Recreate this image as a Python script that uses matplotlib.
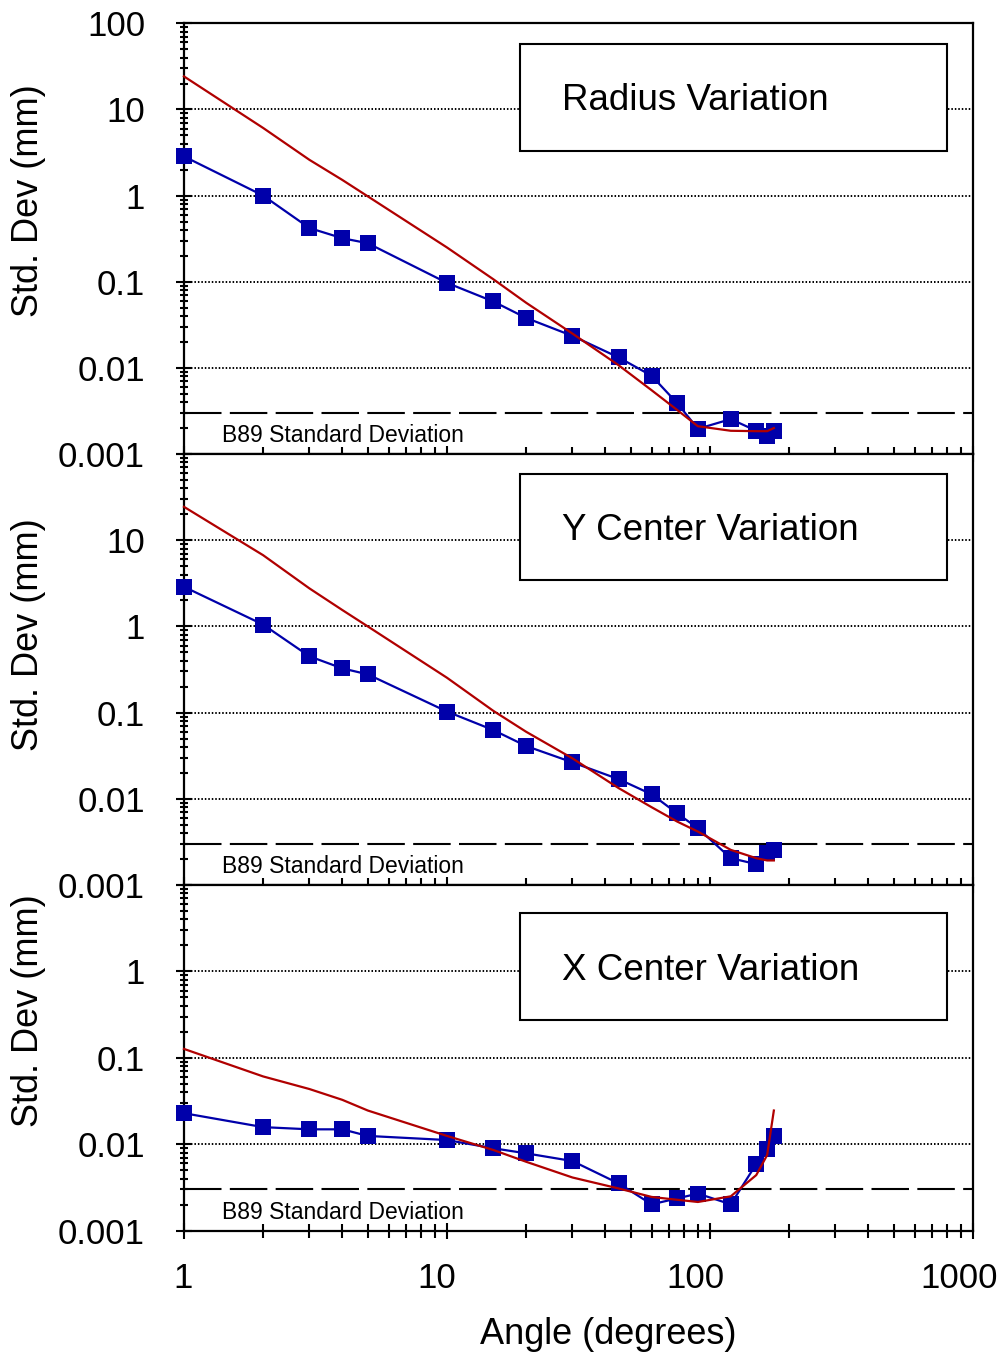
import numpy as np
import matplotlib.pyplot as plt
import matplotlib.transforms as mtransforms
from matplotlib.patches import Rectangle
from matplotlib.ticker import LogLocator, NullFormatter

plt.rcParams['font.family'] = ['Liberation Sans', 'DejaVu Sans']
plt.rcParams['lines.scale_dashes'] = False

# rotation angle (degrees)
angle = [1, 2, 3, 4, 5, 10, 15, 20, 30, 45, 60, 75, 90, 120, 150, 165, 175]

# measured std. dev (mm)
radius_meas = [2.85, 1.0, 0.42, 0.32, 0.28, 0.097, 0.059, 0.038, 0.0235, 0.0132,
               0.0081, 0.0039, 0.00196, 0.00254, 0.00186, 0.0016, 0.00186]
ycen_meas = [2.88, 1.05, 0.45, 0.326, 0.278, 0.103, 0.0628, 0.041, 0.0265, 0.0169,
             0.0113, 0.0068, 0.00456, 0.00205, 0.00175, 0.00234, 0.00256]
xcen_meas = [0.0229, 0.0158, 0.0149, 0.0149, 0.0125, 0.0112, 0.009, 0.00786, 0.0064,
             0.00352, 0.00202, 0.00236, 0.00269, 0.00202, 0.0059, 0.00875, 0.0125]

# predicted std. dev (mm)
radius_pred = [24.2, 6.1, 2.6, 1.52, 0.98, 0.25, 0.107, 0.057, 0.025, 0.0107,
               0.0055, 0.00325, 0.0021, 0.00186, 0.00184, 0.00184, 0.002]
ycen_pred = [24.4, 6.7, 2.76, 1.55, 1.0, 0.254, 0.105, 0.06, 0.0295, 0.0133,
             0.008, 0.00546, 0.00417, 0.00256, 0.00205, 0.00193, 0.00193]
xcen_pred = [0.127, 0.061, 0.0436, 0.0327, 0.0246, 0.0125, 0.0086, 0.00628, 0.00413,
             0.00308, 0.00246, 0.00228, 0.00215, 0.0025, 0.0044, 0.0075, 0.0246]

b89_sd = 0.003

x_ticks = [1, 10, 100, 1000]
x_labels = ['1', '10', '100', '1000']
x_label_shift = [-1, -10, -14, -14]   # px, labels sit a little left of their ticks

top_ticks = [0.001, 0.01, 0.1, 1, 10, 100]
top_labels = ['0.001', '0.01', '0.1', '1', '10', '100']
mid_ticks = [0.001, 0.01, 0.1, 1, 10, 100]
mid_labels = ['0.001', '0.01', '0.1', '1', '10', '']
bot_ticks = [0.001, 0.01, 0.1, 1, 10]
bot_labels = ['0.001', '0.01', '0.1', '1', '']

panels = [
    dict(title='Radius Variation', meas=radius_meas, pred=radius_pred, ytop=100,
         ticks=top_ticks, labels=top_labels,
         rect=[0.1825, 0.6652, 0.7827, 0.3176], box=(0.7035, 0.2485), ty=0.82,
         ylab=0.8518),
    dict(title='Y Center Variation', meas=ycen_meas, pred=ycen_pred, ytop=100,
         ticks=mid_ticks, labels=mid_labels,
         rect=[0.1825, 0.3473, 0.7827, 0.3179], box=(0.7077, 0.2459), ty=0.8226,
         ylab=0.5317),
    dict(title='X Center Variation', meas=xcen_meas, pred=xcen_pred, ytop=10,
         ticks=bot_ticks, labels=bot_labels,
         rect=[0.1825, 0.0924, 0.7827, 0.2549], box=(0.6095, 0.3095), ty=0.754,
         ylab=0.2544),
]

fig = plt.figure(figsize=(10.08, 13.56), dpi=100)

for i, p in enumerate(panels):
    ax = fig.add_axes(p['rect'])
    ax.set_xscale('log')
    ax.set_yscale('log')
    ax.set_xlim(1, 1000)
    ax.set_ylim(0.001, p['ytop'])

    ax.grid(axis='y', which='major', color='black', linestyle=(0, (1.1, 1.4)),
            linewidth=1.4, zorder=0)
    ax.set_axisbelow(True)

    ax.axhline(b89_sd, color='black', linewidth=1.5, dashes=(27, 6), zorder=1)
    ax.text(0.048, 0.00163, 'B89 Standard Deviation', transform=ax.get_yaxis_transform(),
            ha='left', va='center', fontsize=16.5)

    ax.plot(angle, p['meas'], color='#0000AA', linewidth=1.6, marker='s',
            markersize=11.5, markeredgewidth=0, zorder=3, clip_on=False)
    ax.plot(angle, p['pred'], color='#B00000', linewidth=1.6, zorder=4, clip_on=False)

    # title box
    y0, h = p['box']
    ax.add_patch(Rectangle((0.426, y0), 0.541, h, transform=ax.transAxes,
                           facecolor='white', edgecolor='black', linewidth=1.5, zorder=5))
    ax.text(0.479, p['ty'], p['title'], transform=ax.transAxes, ha='left', va='center',
            fontsize=26.5, zorder=6)

    ax.set_yticks(p['ticks'], labels=p['labels'])
    ax.yaxis.set_minor_locator(LogLocator(base=10, subs=np.arange(2, 10), numticks=20))
    ax.yaxis.set_minor_formatter(NullFormatter())
    ax.set_xticks(x_ticks, labels=x_labels)
    ax.xaxis.set_minor_locator(LogLocator(base=10, subs=np.arange(2, 10), numticks=20))
    ax.xaxis.set_minor_formatter(NullFormatter())

    ax.tick_params(axis='y', which='major', direction='inout', length=12, width=1.5,
                   labelsize=25, pad=22)
    ax.tick_params(axis='y', which='minor', direction='inout', length=6, width=1.5)
    ax.tick_params(axis='x', which='major', direction='inout', length=11.5, width=1.5,
                   labelsize=25, pad=17)
    ax.tick_params(axis='x', which='minor', direction='inout', length=9.5, width=1.5)
    if i < 2:
        ax.tick_params(axis='x', labelbottom=False)
    else:
        for lab, dx in zip(ax.get_xticklabels(), x_label_shift):
            lab.set_transform(lab.get_transform() +
                              mtransforms.ScaledTranslation(dx / 100, 0, fig.dpi_scale_trans))

    for s in ax.spines.values():
        s.set_linewidth(1.6)

    fig.text(0.0278, p['ylab'], 'Std. Dev (mm)', rotation=90, ha='center', va='center',
             fontsize=26)

fig.text(0.6032, 0.0155, 'Angle (degrees)', ha='center', va='center', fontsize=26)

fig.savefig('out.png', dpi=100)
